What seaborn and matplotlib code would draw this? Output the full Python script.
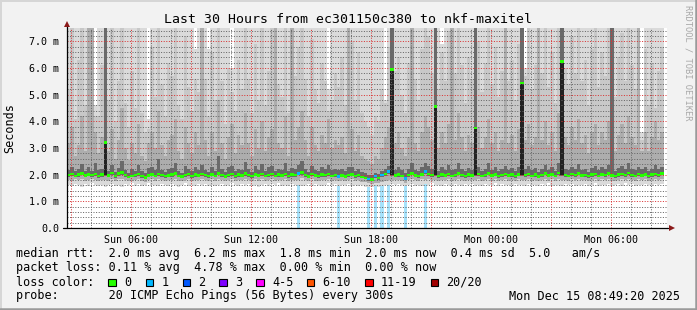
import numpy as np
import pandas as pd
import matplotlib
matplotlib.use("Agg")
import matplotlib.pyplot as plt
import matplotlib.dates as mdates
from matplotlib.ticker import FuncFormatter, MultipleLocator
from matplotlib.patches import Rectangle
from matplotlib.lines import Line2D
import seaborn as sns

# ---------------- data ----------------
title = "Last 30 Hours from ec301150c380 to nkf-maxitel"
start_time = "2025-12-14 02:49:20"
end_time = "2025-12-15 08:49:20"
step = "10min"

median_ms = [
    1.98, 2.02, 1.96, 2.00, 2.05, 1.97, 2.01, 1.99, 2.03, 1.95,
    2.00, 3.20, 1.97, 2.06, 1.94, 2.04, 2.08, 1.98, 1.92, 1.96,
    1.99, 2.02, 1.95, 1.90, 1.97, 2.01, 1.96, 2.03, 1.99, 1.94,
    1.97, 2.00, 2.04, 1.96, 1.93, 1.99, 2.02, 1.95, 2.00, 1.97,
    2.03, 1.98, 1.94, 2.01, 1.96, 2.05, 1.99, 1.93, 1.98, 2.02,
    1.95, 2.00, 1.97, 2.04, 1.99, 1.94, 2.01, 1.97, 2.03, 1.96,
    1.99, 2.02, 1.96, 2.00, 1.97, 2.03, 1.95, 2.00, 1.98, 2.05,
    2.08, 1.99, 1.93, 2.02, 1.97, 1.95, 2.00, 1.98, 2.03, 1.96,
    1.99, 1.93, 1.97, 1.93, 1.99, 2.01, 1.95, 1.98, 1.92, 1.88,
    1.84, 1.82, 1.95, 1.88, 1.99, 2.03, 2.12, 5.95, 1.97, 2.00,
    1.96, 1.86, 1.99, 2.04, 1.97, 1.95, 2.01, 2.12, 2.03, 1.98,
    4.55, 1.95, 2.00, 1.97, 2.03, 1.96, 1.99, 2.05, 1.98, 1.94,
    2.00, 1.97, 3.74, 2.02, 1.96, 1.99, 2.04, 1.97, 2.01, 1.95,
    1.98, 2.03, 1.97, 2.00, 1.95, 2.01, 5.44, 1.98, 2.02, 1.96,
    2.00, 1.93, 1.99, 2.04, 1.97, 2.01, 1.96, 2.06, 6.24, 1.99,
    1.96, 2.02, 1.98, 2.05, 1.97, 1.99, 1.94, 2.00, 2.03, 1.96,
    2.01, 1.98, 2.05, 1.97, 1.95, 2.00, 2.03, 1.98, 2.06, 1.99,
    1.96, 2.02, 1.97, 2.01, 1.95, 2.00, 2.03, 1.98, 2.04,
]

loss_steps = [69, 81, 90, 92, 94, 96, 101, 107]
loss_pings = [1, 1, 1, 1, 1, 1, 1, 1]

ping_min = [
    1.62, 1.58, 1.66, 1.60, 1.55, 1.64, 1.59, 1.68, 1.61, 1.57,
    1.63, 1.52, 1.60, 1.66, 1.58, 1.62, 1.55, 1.65, 1.60, 1.67,
    1.59, 1.64, 1.56, 1.61, 1.68, 1.60, 1.63, 1.57, 1.66, 1.62,
    1.58, 1.65, 1.61, 1.55, 1.63, 1.67, 1.59, 1.62, 1.57, 1.64,
    1.60, 1.66, 1.58, 1.63, 1.56, 1.61, 1.65, 1.59, 1.62, 1.67,
    1.61, 1.57, 1.64, 1.60, 1.66, 1.58, 1.63, 1.55, 1.62, 1.65,
    1.59, 1.64, 1.60, 1.67, 1.57, 1.62, 1.58, 1.65, 1.61, 1.63,
    1.56, 1.62, 1.66, 1.59, 1.64, 1.60, 1.57, 1.63, 1.68, 1.61,
    1.64, 1.58, 1.62, 1.60, 1.66, 1.57, 1.63, 1.59, 1.61, 1.55,
    1.54, 1.52, 1.56, 1.55, 1.58, 1.60, 1.62, 1.64, 1.61, 1.65,
    1.60, 1.57, 1.63, 1.66, 1.59, 1.62, 1.58, 1.64, 1.61, 1.67,
    1.60, 1.63, 1.57, 1.65, 1.61, 1.59, 1.66, 1.62, 1.58, 1.64,
    1.61, 1.66, 1.59, 1.63, 1.57, 1.65, 1.60, 1.62, 1.67, 1.58,
    1.64, 1.60, 1.62, 1.58, 1.66, 1.61, 1.63, 1.57, 1.65, 1.60,
    1.62, 1.58, 1.65, 1.61, 1.67, 1.59, 1.63, 1.60, 1.56, 1.64,
    1.60, 1.66, 1.58, 1.63, 1.61, 1.65, 1.57, 1.62, 1.68, 1.59,
    1.63, 1.60, 1.66, 1.58, 1.62, 1.64, 1.59, 1.67, 1.61, 1.65,
    1.58, 1.63, 1.60, 1.66, 1.62, 1.59, 1.65, 1.61, 1.64,
]

ping_p25 = [
    1.80, 1.78, 1.83, 1.79, 1.82, 1.77, 1.81, 1.84, 1.79, 1.76,
    1.81, 1.80, 1.78, 1.84, 1.77, 1.82, 1.85, 1.79, 1.75, 1.78,
    1.80, 1.83, 1.77, 1.74, 1.79, 1.82, 1.78, 1.84, 1.80, 1.76,
    1.79, 1.81, 1.84, 1.78, 1.76, 1.80, 1.83, 1.77, 1.81, 1.79,
    1.84, 1.80, 1.76, 1.82, 1.78, 1.85, 1.80, 1.75, 1.79, 1.83,
    1.77, 1.81, 1.79, 1.84, 1.80, 1.76, 1.82, 1.78, 1.84, 1.77,
    1.80, 1.83, 1.78, 1.81, 1.79, 1.84, 1.77, 1.81, 1.80, 1.80,
    1.86, 1.80, 1.75, 1.83, 1.78, 1.77, 1.81, 1.79, 1.84, 1.78,
    1.80, 1.76, 1.79, 1.75, 1.80, 1.82, 1.77, 1.79, 1.74, 1.71,
    1.68, 1.66, 1.70, 1.69, 1.74, 1.76, 1.80, 1.80, 1.79, 1.81,
    1.78, 1.70, 1.80, 1.84, 1.79, 1.77, 1.82, 1.80, 1.84, 1.80,
    1.80, 1.77, 1.81, 1.79, 1.84, 1.78, 1.80, 1.85, 1.79, 1.76,
    1.81, 1.79, 1.80, 1.83, 1.78, 1.80, 1.84, 1.78, 1.82, 1.77,
    1.79, 1.84, 1.78, 1.81, 1.77, 1.82, 1.80, 1.79, 1.83, 1.78,
    1.81, 1.75, 1.80, 1.84, 1.78, 1.82, 1.78, 1.85, 1.80, 1.80,
    1.78, 1.83, 1.80, 1.85, 1.79, 1.80, 1.76, 1.81, 1.84, 1.78,
    1.82, 1.79, 1.85, 1.78, 1.77, 1.81, 1.84, 1.79, 1.85, 1.80,
    1.78, 1.83, 1.79, 1.82, 1.77, 1.81, 1.84, 1.79, 1.84,
]

ping_p40 = [
    1.92, 1.95, 1.90, 1.93, 1.97, 1.91, 1.94, 1.92, 1.96, 1.89,
    1.93, 1.95, 1.91, 1.98, 1.88, 1.96, 2.00, 1.91, 1.86, 1.90,
    1.92, 1.95, 1.89, 1.85, 1.91, 1.94, 1.90, 1.96, 1.93, 1.88,
    1.91, 1.93, 1.97, 1.90, 1.87, 1.92, 1.95, 1.89, 1.93, 1.91,
    1.96, 1.91, 1.88, 1.94, 1.90, 1.97, 1.92, 1.87, 1.92, 1.95,
    1.89, 1.93, 1.91, 1.96, 1.92, 1.88, 1.94, 1.91, 1.96, 1.90,
    1.92, 1.95, 1.90, 1.93, 1.91, 1.96, 1.89, 1.93, 1.92, 1.97,
    2.00, 1.92, 1.87, 1.95, 1.91, 1.89, 1.93, 1.92, 1.96, 1.90,
    1.92, 1.86, 1.91, 1.87, 1.92, 1.94, 1.89, 1.91, 1.86, 1.82,
    1.78, 1.76, 1.88, 1.80, 1.92, 1.96, 2.04, 1.95, 1.91, 1.93,
    1.90, 1.80, 1.92, 1.97, 1.91, 1.89, 1.94, 2.04, 1.96, 1.92,
    1.95, 1.89, 1.93, 1.91, 1.96, 1.90, 1.92, 1.98, 1.92, 1.88,
    1.93, 1.91, 1.95, 1.95, 1.90, 1.92, 1.97, 1.91, 1.94, 1.89,
    1.92, 1.96, 1.91, 1.93, 1.89, 1.94, 1.95, 1.92, 1.95, 1.90,
    1.93, 1.87, 1.92, 1.97, 1.91, 1.94, 1.90, 1.98, 1.95, 1.92,
    1.90, 1.95, 1.92, 1.97, 1.91, 1.92, 1.88, 1.93, 1.96, 1.90,
    1.94, 1.92, 1.97, 1.91, 1.89, 1.93, 1.96, 1.92, 1.98, 1.92,
    1.90, 1.95, 1.91, 1.94, 1.89, 1.93, 1.96, 1.92, 1.97,
]

ping_p60 = [
    2.18, 2.30, 2.12, 2.22, 2.40, 2.15, 2.28, 2.14, 2.45, 2.16,
    2.22, 8.00, 2.15, 2.35, 2.10, 2.26, 2.50, 2.18, 2.08, 2.20,
    2.15, 2.38, 2.14, 2.05, 2.24, 2.30, 2.17, 2.60, 2.19, 2.11,
    2.21, 2.26, 2.45, 2.15, 2.08, 2.34, 2.23, 2.13, 2.30, 2.18,
    2.38, 2.17, 2.11, 2.28, 2.15, 2.70, 2.21, 2.09, 2.27, 2.34,
    2.13, 2.23, 2.19, 2.48, 2.22, 2.10, 2.31, 2.16, 2.40, 2.15,
    2.27, 2.32, 2.15, 2.23, 2.19, 2.45, 2.12, 2.25, 2.21, 2.36,
    2.50, 2.23, 2.10, 2.34, 2.19, 2.15, 2.29, 2.21, 2.38, 2.16,
    2.23, 2.18, 2.21, 2.13, 2.27, 2.30, 2.15, 2.23, 2.10, 2.05,
    2.00, 1.98, 2.06, 2.03, 2.14, 2.22, 2.34, 8.00, 2.19, 2.27,
    2.16, 2.05, 2.23, 2.42, 2.19, 2.15, 2.29, 2.45, 2.32, 2.21,
    8.00, 2.15, 2.27, 2.19, 2.36, 2.16, 2.23, 2.45, 2.21, 2.13,
    2.25, 2.19, 8.00, 2.30, 2.15, 2.23, 2.42, 2.19, 2.27, 2.13,
    2.21, 2.34, 2.19, 2.25, 2.13, 2.29, 8.00, 2.20, 2.32, 2.16,
    2.26, 2.10, 2.23, 2.38, 2.18, 2.28, 2.15, 2.44, 8.00, 2.21,
    2.16, 2.30, 2.21, 2.40, 2.19, 2.23, 2.11, 2.26, 2.34, 2.16,
    2.28, 2.20, 2.38, 8.00, 2.13, 2.25, 2.33, 2.20, 2.42, 2.23,
    2.16, 2.30, 2.20, 2.27, 2.13, 2.23, 2.35, 2.21, 2.30,
]

ping_p75 = [
    3.20, 3.80, 2.70, 3.10, 4.20, 2.90, 8.00, 8.00, 3.60, 2.80,
    3.40, 8.00, 2.90, 3.70, 2.60, 3.30, 4.50, 3.00, 2.55, 3.20,
    2.80, 3.90, 2.70, 2.50, 3.20, 3.60, 3.00, 4.40, 3.10, 2.70,
    3.30, 3.50, 4.10, 2.90, 2.60, 3.80, 3.20, 2.80, 3.60, 3.10,
    8.00, 3.30, 2.70, 3.60, 2.90, 4.80, 3.20, 2.60, 3.40, 3.90,
    2.80, 3.50, 3.10, 4.30, 3.20, 2.70, 3.70, 3.00, 4.00, 2.90,
    3.40, 3.70, 8.00, 3.20, 3.00, 4.20, 2.70, 8.00, 3.30, 3.80,
    4.40, 3.30, 2.70, 3.80, 3.10, 2.90, 3.50, 3.20, 4.10, 3.00,
    3.30, 3.10, 3.40, 2.80, 8.00, 3.70, 2.90, 3.50, 2.70, 2.60,
    2.50, 2.40, 2.70, 2.60, 3.00, 3.40, 3.80, 8.00, 3.20, 3.60,
    3.00, 2.70, 3.40, 8.00, 3.20, 2.90, 3.60, 4.20, 3.80, 3.30,
    8.00, 3.00, 3.60, 3.20, 3.90, 8.00, 3.30, 4.30, 3.40, 2.90,
    3.50, 3.20, 8.00, 3.80, 3.00, 3.40, 4.10, 3.20, 3.60, 2.90,
    3.30, 8.00, 3.20, 3.50, 2.90, 3.70, 8.00, 3.30, 3.90, 3.10,
    3.40, 8.00, 3.30, 4.00, 3.10, 3.60, 2.90, 4.30, 8.00, 3.40,
    3.10, 3.80, 3.30, 4.10, 3.20, 3.50, 2.80, 3.60, 3.90, 3.10,
    3.60, 3.30, 4.00, 8.00, 2.90, 3.50, 3.90, 3.20, 4.20, 3.40,
    3.10, 8.00, 2.90, 3.60, 2.90, 3.40, 4.00, 3.30, 3.60,
]

ping_p90 = [
    5.20, 8.00, 4.10, 6.30, 8.00, 4.60, 8.00, 8.00, 4.20, 4.20,
    6.10, 8.00, 4.80, 8.00, 4.00, 5.50, 8.00, 4.70, 3.80, 5.90,
    4.50, 8.00, 4.30, 3.60, 3.70, 6.80, 4.90, 8.00, 5.40, 4.20,
    6.20, 5.70, 8.00, 4.60, 4.10, 7.20, 5.30, 4.40, 5.60, 5.10,
    8.00, 5.60, 4.20, 6.60, 4.80, 8.00, 5.50, 3.90, 6.00, 5.10,
    4.40, 6.30, 5.20, 8.00, 5.60, 4.30, 6.90, 4.80, 8.00, 4.60,
    5.90, 8.00, 8.00, 5.40, 4.90, 8.00, 4.30, 8.00, 5.70, 6.80,
    8.00, 5.60, 4.20, 7.10, 5.20, 4.70, 6.20, 5.50, 4.40, 4.80,
    5.80, 5.30, 6.40, 4.60, 8.00, 7.00, 4.80, 6.60, 4.30, 4.00,
    3.80, 3.50, 4.20, 4.00, 5.20, 4.70, 6.80, 8.00, 5.90, 6.40,
    5.00, 4.30, 6.20, 8.00, 5.60, 4.80, 6.70, 8.00, 7.20, 5.80,
    8.00, 5.20, 6.60, 5.50, 7.40, 8.00, 5.80, 8.00, 6.10, 4.70,
    6.40, 5.60, 8.00, 7.00, 5.10, 6.20, 8.00, 5.40, 6.80, 4.90,
    5.90, 8.00, 5.50, 6.30, 4.80, 6.90, 8.00, 5.70, 7.50, 5.20,
    6.10, 8.00, 5.80, 8.00, 5.30, 6.60, 4.70, 8.00, 8.00, 6.00,
    5.40, 7.20, 5.80, 8.00, 5.50, 6.30, 4.60, 6.70, 7.80, 5.30,
    6.60, 5.70, 8.00, 8.00, 4.90, 6.40, 7.30, 5.50, 8.00, 6.10,
    5.20, 8.00, 3.30, 6.70, 4.60, 6.20, 4.50, 5.90, 6.80,
]

ping_max = [
    8.0, 8.0, 8.0, 8.0, 8.0, 8.0, 8.0, 8.0, 4.6, 8.0,
    8.0, 8.0, 8.0, 8.0, 8.0, 8.0, 8.0, 8.0, 8.0, 8.0,
    8.0, 8.0, 8.0, 8.0, 4.1, 8.0, 8.0, 8.0, 8.0, 8.0,
    8.0, 8.0, 8.0, 8.0, 8.0, 8.0, 8.0, 8.0, 6.7, 8.0,
    8.0, 8.0, 6.7, 8.0, 8.0, 8.0, 8.0, 8.0, 8.0, 6.0,
    8.0, 8.0, 8.0, 8.0, 8.0, 8.0, 8.0, 8.0, 8.0, 8.0,
    8.0, 8.0, 8.0, 8.0, 8.0, 8.0, 8.0, 8.0, 8.0, 8.0,
    8.0, 8.0, 8.0, 8.0, 8.0, 8.0, 8.0, 8.0, 5.2, 8.0,
    8.0, 8.0, 8.0, 8.0, 8.0, 8.0, 8.0, 8.0, 8.0, 8.0,
    8.0, 8.0, 8.0, 8.0, 8.0, 4.8, 8.0, 8.0, 8.0, 8.0,
    8.0, 8.0, 8.0, 8.0, 8.0, 8.0, 8.0, 8.0, 8.0, 8.0,
    8.0, 8.0, 6.9, 8.0, 8.0, 8.0, 8.0, 8.0, 8.0, 8.0,
    8.0, 8.0, 8.0, 8.0, 8.0, 8.0, 8.0, 8.0, 8.0, 8.0,
    8.0, 8.0, 8.0, 8.0, 8.0, 8.0, 8.0, 6.0, 8.0, 8.0,
    8.0, 8.0, 8.0, 8.0, 8.0, 8.0, 8.0, 8.0, 8.0, 8.0,
    8.0, 8.0, 8.0, 8.0, 8.0, 8.0, 8.0, 8.0, 8.0, 8.0,
    8.0, 8.0, 8.0, 8.0, 8.0, 8.0, 8.0, 8.0, 8.0, 8.0,
    8.0, 8.0, 3.6, 8.0, 8.0, 8.0, 8.0, 8.0, 8.0,
]

# inner core (darkest smoke) where the pings are split high/low
core_steps = [11, 97, 110, 122, 136, 148]
core_lo = [1.97, 1.98, 1.97, 1.98, 1.97, 1.98]
core_hi = [3.20, 5.95, 4.55, 3.74, 5.44, 6.24]

y_ticks = [0, 1, 2, 3, 4, 5, 6, 7]
y_max = 7.5

stats_rtt = "median rtt:  2.0 ms avg  6.2 ms max  1.8 ms min  2.0 ms now  0.4 ms sd  5.0   am/s"
stats_loss = "packet loss: 0.11 % avg  4.78 % max  0.00 % min  0.00 % now"
probe_text = "probe:       20 ICMP Echo Pings (56 Bytes) every 300s"
stamp_text = "Mon Dec 15 08:49:20 2025"
loss_labels = ["0", "1", "2", "3", "4-5", "6-10", "11-19", "20/20"]
loss_colors = ["#26ff00", "#00b8ff", "#0059ff", "#7e00ff", "#ff00ff", "#ff5500", "#ff0000", "#a10000"]

# ---------------- style ----------------
sns.set_theme(style="white")
plt.rcParams["font.family"] = ["DejaVu Sans Mono", "DejaVu Sans"]
plt.rcParams["text.color"] = "black"

W, H = 697, 310
BG = "#f2f2f2"
fig = plt.figure(figsize=(W / 100, H / 100), dpi=100, facecolor=BG)
ax = fig.add_axes([67 / W, 82 / H, 600 / W, 200 / H])
ax.set_facecolor("white")

n = len(median_ms)
t = mdates.date2num(pd.date_range(start_time, periods=n, freq=step).to_pydatetime())
wdt = t[1] - t[0]

med = np.array(median_ms)
pmin, p25, p40 = np.array(ping_min), np.array(ping_p25), np.array(ping_p40)
p60, p75, p90, pmax = np.array(ping_p60), np.array(ping_p75), np.array(ping_p90), np.array(ping_max)

bar_kw = dict(width=wdt, align="edge", linewidth=0, antialiased=False)

# loss background stripes
ax.bar(t[loss_steps], y_max, bottom=0, width=wdt, align="edge", linewidth=0,
       color="#a6e2fb", zorder=0.5)

# smoke layers
ax.bar(t, pmax - pmin, bottom=pmin, color="#dadada", zorder=1.0, **bar_kw)
ax.bar(t, p90 - p25, bottom=p25, color="#c8c8c8", zorder=1.1, **bar_kw)
ax.bar(t, p75 - p25, bottom=p25, color="#adadad", zorder=1.2, **bar_kw)
ax.bar(t, p60 - p40, bottom=p40, color="#6a6a6a", zorder=1.3, **bar_kw)
ax.bar(t[core_steps], np.array(core_hi) - np.array(core_lo), bottom=core_lo,
       color="#222222", zorder=1.4, **bar_kw)

# median, coloured by loss
loss_full = np.zeros(n, dtype=int)
loss_full[loss_steps] = loss_pings
med_colors = [loss_colors[1] if l == 1 else loss_colors[0] for l in loss_full]
sw = 0.045
ax.bar(t, 2 * sw, bottom=med - sw, color=med_colors, zorder=3, **bar_kw)

# axes / grid
ax.set_xlim(mdates.date2num(pd.Timestamp(start_time)), mdates.date2num(pd.Timestamp(end_time)))
ax.set_ylim(0, y_max)
ax.set_yticks(y_ticks)
ax.yaxis.set_minor_locator(MultipleLocator(0.2))
ax.xaxis.set_major_locator(mdates.HourLocator(byhour=range(0, 24, 3)))
ax.xaxis.set_minor_locator(mdates.HourLocator())


def xfmt(v, pos):
    d = mdates.num2date(v)
    return d.strftime("%a %H:%M") if d.hour % 6 == 0 else ""


ax.xaxis.set_major_formatter(FuncFormatter(xfmt))
ax.yaxis.set_major_formatter(FuncFormatter(lambda v, p: "0.0" if v == 0 else f"{v:.1f} m"))

ax.set_axisbelow(False)
ax.grid(True, which="major", color=(0.85, 0.2, 0.2, 0.28), linestyle=(0, (1, 1.6)), linewidth=0.72)
ax.grid(True, which="minor", color=(0.4, 0.4, 0.4, 0.18), linestyle=(0, (1, 1.6)), linewidth=0.72)

for sp in ax.spines.values():
    sp.set_visible(False)

ax.tick_params(axis="both", which="major", direction="out", length=2.5, width=0.75,
               color="#d08080", labelsize=7.2, labelcolor="black")
ax.tick_params(axis="both", which="minor", direction="out", length=1.5, width=0.75, color="#b0b0b0")
ax.tick_params(axis="x", which="major", pad=2.5)
ax.tick_params(axis="y", which="major", pad=3.2)

# axis lines with arrows
ax.plot([-4 / 600, 1 + 1 / 600], [0, 0], transform=ax.transAxes, color="black", lw=0.9,
        clip_on=False, zorder=5)
ax.plot([0, 0], [0, 1 + 2 / 200], transform=ax.transAxes, color="black", lw=0.9,
        clip_on=False, zorder=5)
ax.plot([1 + 4.5 / 600], [0], marker=">", markersize=4.5, color="#8b1a1a",
        transform=ax.transAxes, clip_on=False, zorder=6, markeredgewidth=0)
ax.plot([0], [1 + 4 / 200], marker="^", markersize=4.5, color="#8b1a1a",
        transform=ax.transAxes, clip_on=False, zorder=6, markeredgewidth=0)

# texts
fig.text(347.5 / W, 1 - 19.5 / H, title, ha="center", va="center", fontsize=9.5)
fig.text(10 / W, 1 - 128 / H, "Seconds", rotation=90, ha="center", va="center", fontsize=8.5)
fig.text(688 / W, 1 - 5 / H, "RRDTOOL / TOBI OETIKER", rotation=270, ha="center", va="top",
         fontsize=6.3, color="#a8a8a8")

fs = 8.5
fig.text(16 / W, 1 - 254 / H, stats_rtt, ha="left", va="center", fontsize=fs)
fig.text(16 / W, 1 - 268 / H, stats_loss, ha="left", va="center", fontsize=fs)
fig.text(16 / W, 1 - 282 / H, "loss color:", ha="left", va="center", fontsize=fs)
fig.text(16 / W, 1 - 296 / H, probe_text, ha="left", va="center", fontsize=fs)
fig.text(680 / W, 1 - 296 / H, stamp_text, ha="right", va="center", fontsize=fs)

box_x = [108.3, 145.7, 182.7, 219.3, 256.3, 306.7, 365.0, 430.7]
for bx, lab, col in zip(box_x, loss_labels, loss_colors):
    fig.add_artist(Rectangle((bx / W, 1 - 286.3 / H), 7.7 / W, 7.7 / H, transform=fig.transFigure,
                             facecolor=col, edgecolor="black", linewidth=0.8))
    fig.text((bx + 15.7) / W, 1 - 282 / H, lab, ha="left", va="center", fontsize=fs)

# frame shading
fig.add_artist(Line2D([0, 1], [1 - 0.5 / H] * 2, transform=fig.transFigure, color="#d6d6d6", lw=1.4))
fig.add_artist(Line2D([0.5 / W] * 2, [0, 1], transform=fig.transFigure, color="#d6d6d6", lw=1.4))
fig.add_artist(Line2D([0, 1], [1.2 / H] * 2, transform=fig.transFigure, color="#9a9a9a", lw=1.8))
fig.add_artist(Line2D([1 - 1.2 / W] * 2, [0, 1], transform=fig.transFigure, color="#9a9a9a", lw=1.8))

fig.savefig("out.png", dpi=100, facecolor=BG)
